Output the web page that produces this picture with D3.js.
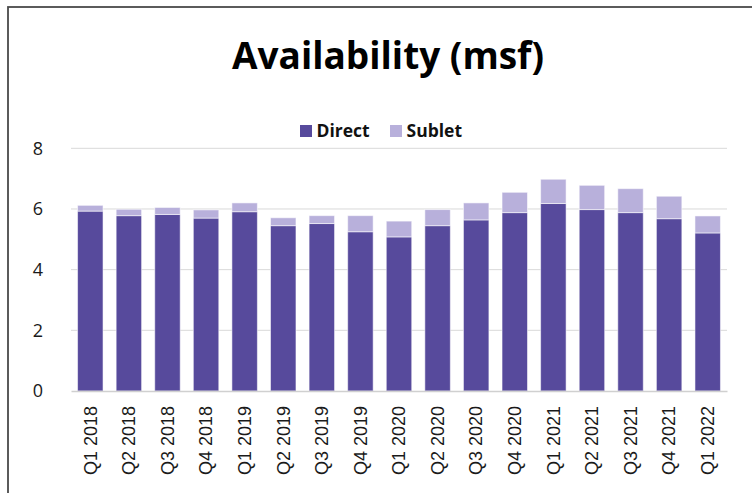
<!DOCTYPE html>
<html>
<head>
<meta charset="utf-8">
<script src="https://cdn.jsdelivr.net/npm/d3@7"></script>
<style>
  html, body { margin: 0; padding: 0; background: #fff; }
  svg { display: block; }
</style>
</head>
<body>
<svg id="chart" width="752" height="493"></svg>
<script>
const categories = ["Q1 2018","Q2 2018","Q3 2018","Q4 2018","Q1 2019","Q2 2019","Q3 2019","Q4 2019","Q1 2020","Q2 2020","Q3 2020","Q4 2020","Q1 2021","Q2 2021","Q3 2021","Q4 2021","Q1 2022"];
const direct = [5.93,5.78,5.82,5.70,5.91,5.45,5.52,5.25,5.08,5.45,5.64,5.88,6.18,5.98,5.88,5.68,5.21];
const sublet = [0.19,0.21,0.23,0.27,0.29,0.26,0.26,0.53,0.52,0.53,0.56,0.67,0.80,0.80,0.79,0.74,0.56];
const yTicks = [0,2,4,6,8];
const seriesNames = ["Direct","Sublet"];
const colors = ["#574A9C","#B8B0DB"];

const svg = d3.select("#chart");
const plot = {left: 71, right: 727, top: 148.3, bottom: 391};

// frame
svg.append("rect").attr("x", 8).attr("y", 7).attr("width", 800).attr("height", 600)
  .attr("fill", "none").attr("stroke", "#4a4a4a").attr("stroke-width", 1.8);

// title
svg.append("text").attr("x", 388).attr("y", 69).attr("text-anchor", "middle")
  .style("font-family", "'Open Sans', sans-serif").style("font-weight", "700")
  .style("font-size", "37px").attr("fill", "#000").text("Availability (msf)");

const x = d3.scaleBand().domain(categories).range([plot.left, plot.right])
  .paddingInner(0.34).paddingOuter(0.17);
const y = d3.scaleLinear().domain([0, 8]).range([plot.bottom, plot.top]);

// gridlines
svg.append("g").selectAll("line").data(yTicks.filter(d => d > 0)).join("line")
  .attr("x1", plot.left).attr("x2", plot.right)
  .attr("y1", d => y(d)).attr("y2", d => y(d))
  .attr("stroke", "#d9d9d9").attr("stroke-width", 1);

// y axis labels
const yAxis = d3.axisLeft(y).tickValues(yTicks).tickSize(0).tickPadding(0).tickFormat(d3.format("d"));
const gy = svg.append("g").attr("transform", `translate(43,0)`).call(yAxis);
gy.select(".domain").remove();
gy.selectAll("text").style("font-family", "'Open Sans', sans-serif").style("font-size", "18px")
  .attr("fill", "#1a1a1a");

// stacked bars
const rows = categories.map((c, i) => ({cat: c, Direct: direct[i], Sublet: sublet[i]}));
const stack = d3.stack().keys(seriesNames)(rows);
svg.append("g").selectAll("g").data(stack).join("g")
  .attr("fill", (d, i) => colors[i])
  .selectAll("rect").data(d => d).join("rect")
  .attr("x", d => x(d.data.cat))
  .attr("width", x.bandwidth())
  .attr("y", d => y(d[1]))
  .attr("height", d => y(d[0]) - y(d[1]))
  .attr("stroke", "#ffffff").attr("stroke-opacity", 0.55).attr("stroke-width", 1);

// x axis
const xAxis = d3.axisBottom(x).tickSize(0).tickPadding(0);
const gx = svg.append("g").attr("transform", `translate(0,${plot.bottom})`).call(xAxis);
gx.select(".domain").attr("stroke", "#d0d0d0").attr("stroke-width", 1.5);
gx.selectAll("text")
  .style("font-family", "'Liberation Sans', Arial, sans-serif").style("font-size", "18px")
  .attr("fill", "#1a1a1a")
  .attr("transform", "rotate(-90)")
  .attr("text-anchor", "end")
  .attr("dy", "0.35em")
  .attr("x", -15).attr("y", 0);

// legend
const legend = svg.append("g");
const legendItems = [{name: "Direct", x: 300}, {name: "Sublet", x: 390}];
legendItems.forEach((it, i) => {
  legend.append("rect").attr("x", it.x).attr("y", 125).attr("width", 12).attr("height", 12)
    .attr("fill", colors[i]);
  legend.append("text").attr("x", it.x + 16.5).attr("y", 137)
    .style("font-family", "'Open Sans', sans-serif").style("font-weight", "700")
    .style("font-size", "17.5px").attr("fill", "#111").text(it.name);
});
</script>
</body>
</html>
